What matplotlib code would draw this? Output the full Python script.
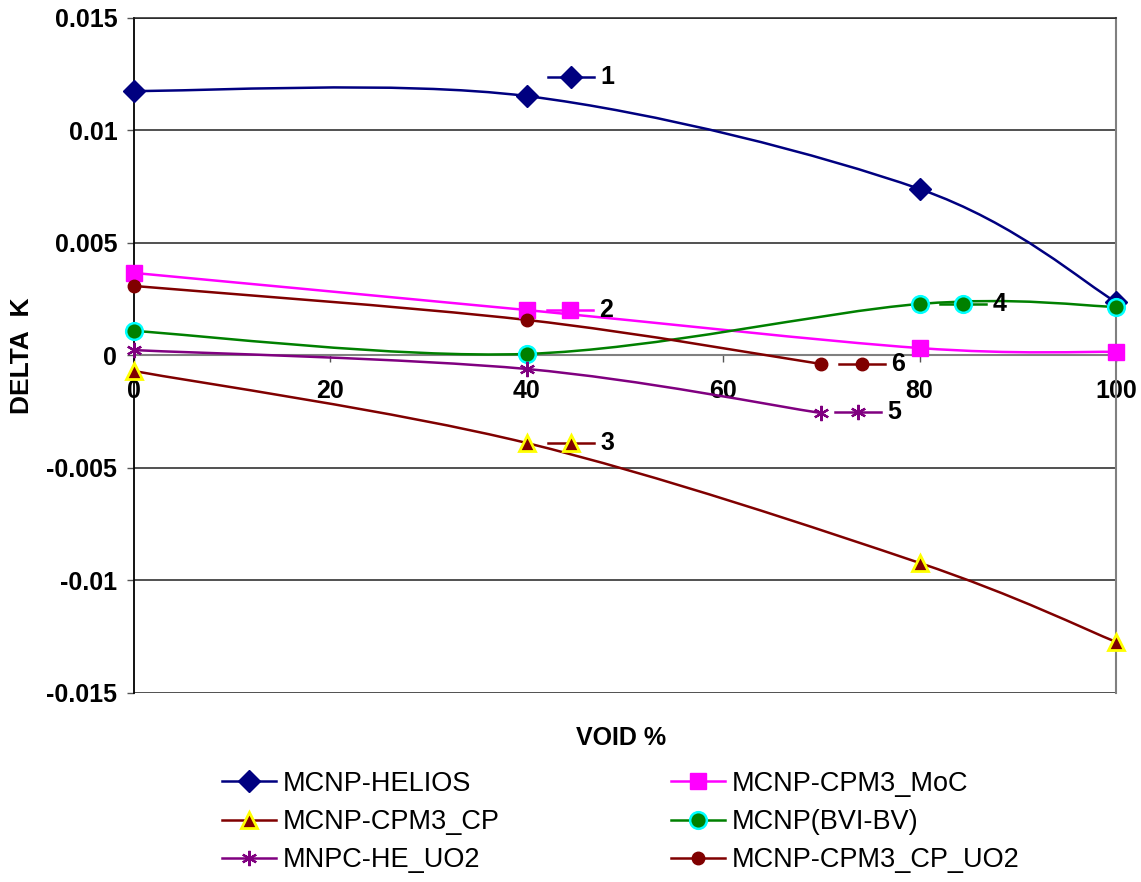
import matplotlib

matplotlib.use("Agg")

import matplotlib.pyplot as plt
from matplotlib.lines import Line2D
from matplotlib.patches import PathPatch
from matplotlib.path import Path


plt.rcParams["font.family"] = ["Liberation Sans", "DejaVu Sans"]

VOID = [0, 40, 80, 100]
VOID_UO2 = [0, 40, 70]

HELIOS = [0.01176, 0.01153, 0.00740, 0.00238]
CPM3_MOC = [0.00367, 0.00202, 0.00033, 0.00016]
CPM3_CP = [-0.00069, -0.00389, -0.00922, -0.01273]
BVI_BV = [0.00109, 0.00007, 0.00229, 0.00216]
HE_UO2 = [0.00024, -0.00060, -0.00256]
CPM3_CP_UO2 = [0.00309, 0.00158, -0.00038]

NAMES = ["MCNP-HELIOS", "MCNP-CPM3_MoC", "MCNP-CPM3_CP",
         "MCNP(BVI-BV)", "MNPC-HE_UO2", "MCNP-CPM3_CP_UO2"]
TAGS = ["1", "2", "3", "4", "5", "6"]

# where the small numbered keys sit inside the plot
TAG_X = [44.5, 44.4, 44.5, 84.4, 73.7, 74.1]
TAG_Y = [0.01238, 0.00202, -0.00387, 0.00229, -0.00251, -0.00038]

STYLES = [
    dict(color="#000080", marker="D", ms=11, mfc="#000080", mec="#000080", mew=1),
    dict(color="#FF00FF", marker="s", ms=12, mfc="#FF00FF", mec="#FF00FF", mew=1),
    dict(color="#800000", marker="^", ms=11, mfc="#800000", mec="#FFFF00", mew=2),
    dict(color="#008000", marker="o", ms=12, mfc="#008000", mec="#00FFFF", mew=1.8),
    dict(color="#800080", marker=(6, 2, 0), ms=11, mfc="#800080", mec="#800080", mew=1.6),
    dict(color="#800000", marker="o", ms=9, mfc="#800000", mec="#800000", mew=1),
]


def smooth_path(x, y):
    # Excel-like smoothed line: Catmull-Rom tangents turned into cubic Beziers
    pts = list(zip(x, y))
    verts = [pts[0]]
    codes = [Path.MOVETO]
    n = len(pts)
    for i in range(n - 1):
        p0 = pts[max(i - 1, 0)]
        p1 = pts[i]
        p2 = pts[i + 1]
        p3 = pts[min(i + 2, n - 1)]
        c1 = (p1[0] + (p2[0] - p0[0]) / 6, p1[1] + (p2[1] - p0[1]) / 6)
        c2 = (p2[0] - (p3[0] - p1[0]) / 6, p2[1] - (p3[1] - p1[1]) / 6)
        verts += [c1, c2, p2]
        codes += [Path.CURVE4] * 3
    return Path(verts, codes)


def main():
    fig = plt.figure(figsize=(11.41, 8.82), dpi=100)
    ax = fig.add_axes([0.1174, 0.2143, 0.8607, 0.7653])

    series = [
        (VOID, HELIOS), (VOID, CPM3_MOC), (VOID, CPM3_CP),
        (VOID, BVI_BV), (VOID_UO2, HE_UO2), (VOID_UO2, CPM3_CP_UO2),
    ]

    handles = []
    for k, ((x, y), st, name) in enumerate(zip(series, STYLES, NAMES)):
        ax.add_patch(PathPatch(smooth_path(x, y), fill=False,
                               edgecolor=st["color"], lw=1.8, zorder=3 + k * 0.1))
        ax.plot(x, y, ls="none", marker=st["marker"], ms=st["ms"], mfc=st["mfc"],
                mec=st["mec"], mew=st["mew"], zorder=5 + k * 0.1, clip_on=False)
        handles.append(Line2D([], [], color=st["color"], lw=1.8, marker=st["marker"],
                              ms=st["ms"], mfc=st["mfc"], mec=st["mec"],
                              mew=st["mew"], label=name))

        tx, ty = TAG_X[k], TAG_Y[k]
        ax.plot([tx - 2.35, tx, tx + 2.35], [ty, ty, ty], color=st["color"], lw=1.8,
                marker=st["marker"], markevery=[1], ms=st["ms"], mfc=st["mfc"],
                mec=st["mec"], mew=st["mew"], zorder=6)
        ax.text(tx + 3.0, ty, TAGS[k], fontsize=18, fontweight="bold",
                ha="left", va="center", zorder=7)

    ax.set_xlim(0, 100)
    ax.set_ylim(-0.015, 0.015)
    ax.set_xticks([0, 20, 40, 60, 80, 100])
    ax.set_yticks([-0.015, -0.01, -0.005, 0, 0.005, 0.01, 0.015])
    ax.set_yticklabels(["-0.015", "-0.01", "-0.005", "0", "0.005", "0.01", "0.015"])

    ax.grid(True, axis="y", color="#222222", lw=1.1)
    ax.set_axisbelow(True)

    ax.spines["bottom"].set_position(("data", 0))
    ax.spines["bottom"].set_color("#808080")
    ax.spines["bottom"].set_linewidth(1.5)
    ax.spines["left"].set_color("black")
    ax.spines["left"].set_linewidth(1.3)
    ax.spines["right"].set_color("#808080")
    ax.spines["right"].set_linewidth(1.5)
    ax.spines["top"].set_color("#222222")
    ax.spines["top"].set_linewidth(1.1)

    ax.tick_params(axis="x", direction="out", length=5, width=1, color="#555555",
                   pad=12, labelsize=18)
    ax.tick_params(axis="y", direction="out", length=5, width=1, color="#555555",
                   pad=7, labelsize=18)
    for lab in ax.get_xticklabels() + ax.get_yticklabels():
        lab.set_fontweight("bold")

    ax.set_xlabel("VOID %", fontsize=18, fontweight="bold")
    ax.xaxis.set_label_coords(0.496, -0.0667)
    ax.xaxis.label.set_verticalalignment("center")
    ax.set_ylabel("DELTA  K", fontsize=19, fontweight="bold")
    ax.yaxis.set_label_coords(-0.114, 0.5)
    ax.yaxis.label.set_verticalalignment("center")

    order = [0, 2, 4, 1, 3, 5]
    fig.legend([handles[i] for i in order], [NAMES[i] for i in order],
               loc="center", bbox_to_anchor=(0.544, 0.068), ncol=2, frameon=False,
               fontsize=19.5, handlelength=2.0, handletextpad=0.25,
               columnspacing=6.3, labelspacing=0.45)

    fig.savefig("out.png", dpi=100)
    plt.close(fig)


if __name__ == "__main__":
    main()
